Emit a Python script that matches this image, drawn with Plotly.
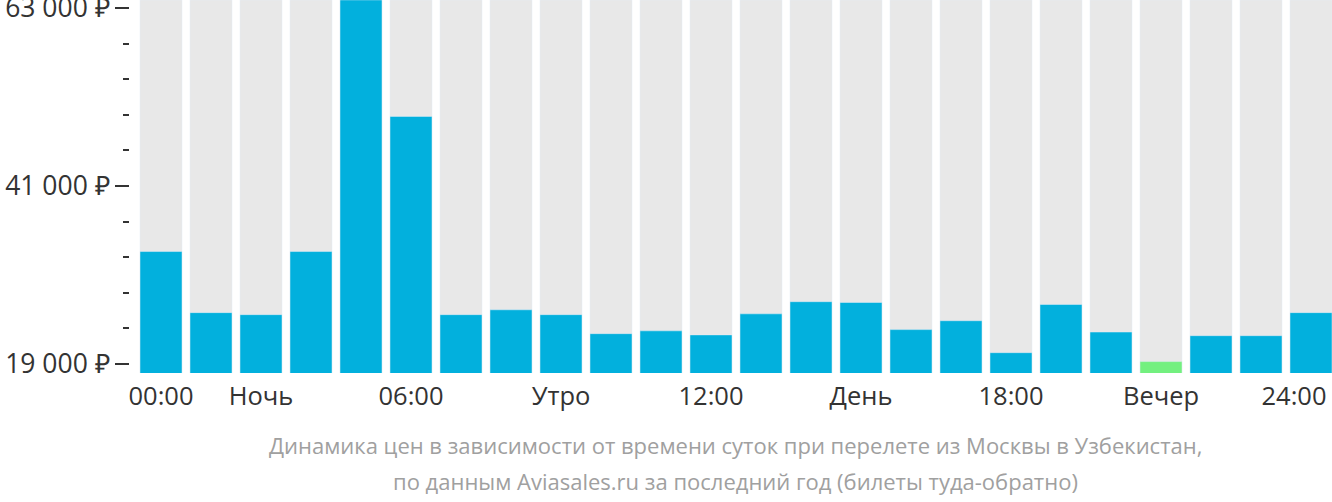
import plotly.graph_objects as go

hours = list(range(24))
prices = [32900, 25350, 25100, 32900, 64000, 49600, 25100, 25700, 25100, 22750,
          23100, 22600, 25200, 26700, 26600, 23250, 24350, 20400, 26350, 22950,
          19300, 22500, 22500, 25350]
bar_colors = ["#02b0dd"] * 24
bar_colors[20] = "#73f07f"
tick_positions = [0, 2, 5, 8, 11, 14, 17, 20, 22.66]
tick_labels = ["00:00", "Ночь", "06:00", "Утро", "12:00", "День", "18:00", "Вечер", "24:00"]
title_lines = ["Динамика цен в зависимости от времени суток при перелете из Москвы в Узбекистан,",
               "по данным Aviasales.ru за последний год (билеты туда-обратно)"]

ymin, ymax = 17888, 63989

fig = go.Figure()
fig.add_trace(go.Bar(x=hours, y=[ymax] * 24, marker_color="#e8e8e8", width=0.84,
                     hoverinfo="skip", showlegend=False))
fig.add_trace(go.Bar(x=hours, y=prices, marker_color=bar_colors, width=0.84,
                     showlegend=False))

fig.update_layout(
    width=1332, height=502,
    margin=dict(l=130, r=0, t=0, b=129),
    barmode="overlay",
    plot_bgcolor="white", paper_bgcolor="white",
    separators=", ",
    font=dict(family="Open Sans", color="#333333", size=25),
    xaxis=dict(range=[-0.62, 23.42], tickmode="array", tickvals=tick_positions,
               ticktext=tick_labels, ticks="", showgrid=False, zeroline=False,
               showline=False, tickfont=dict(size=25.5, color="#333333"),
               ticklabeloverflow="allow", automargin=False, ticklabelstandoff=5),
    yaxis=dict(range=[ymin, ymax], tickmode="linear", tick0=19000, dtick=22000,
               tickformat=",d", ticksuffix=" ₽", ticks="outside", ticklen=14,
               tickwidth=2, tickcolor="#333333", showgrid=False, zeroline=False,
               showline=False, tickfont=dict(size=26.5, color="#333333"),
               ticklabeloverflow="allow", ticklabelstandoff=0, automargin=False,
               minor=dict(tickmode="linear", tick0=19000, dtick=4400, ticks="outside",
                          ticklen=6, tickwidth=2, tickcolor="#333333", showgrid=False)),
    annotations=[
        dict(text=title_lines[0], x=(735 - 130) / 1202, y=445, xref="paper", yref="paper",
             showarrow=False, font=dict(size=22, color="#a0a0a0")),
        dict(text=title_lines[1], x=(735 - 130) / 1202, y=481, xref="paper", yref="paper",
             showarrow=False, font=dict(size=22, color="#a0a0a0")),
    ],
)
plot_h = 502 - 129
for a in fig.layout.annotations:
    a.y = (plot_h - a.y) / plot_h
    a.yanchor = "middle"

fig.write_html("out.html", config={"displayModeBar": False},
               post_script="document.body.style.margin='0';document.body.style.overflow='hidden';")
